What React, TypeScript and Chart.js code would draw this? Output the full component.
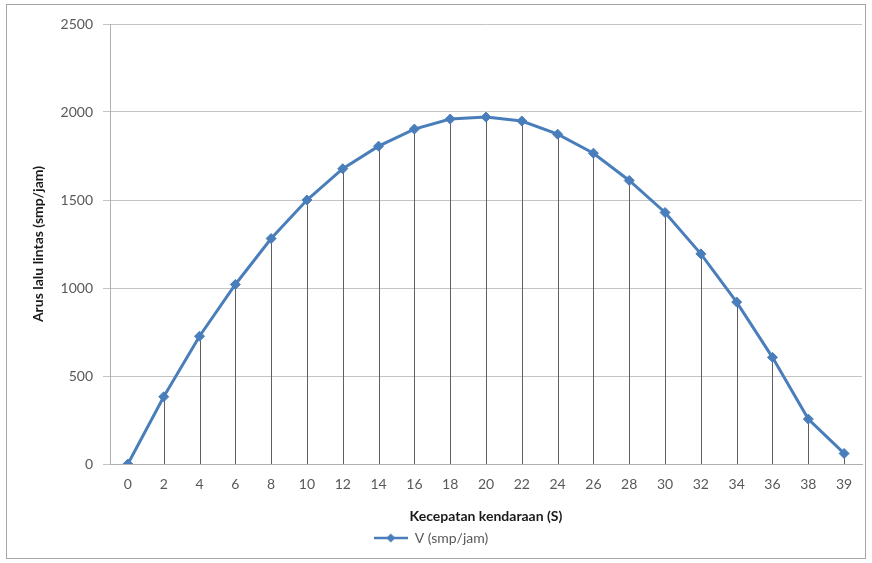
import React, { useEffect, useRef } from "react";
import { Chart, registerables } from "chart.js";

Chart.register(...registerables);

// Speed categories (S) and traffic flow V (smp/jam)
const speedLabels: string[] = [
  "0", "2", "4", "6", "8", "10", "12", "14", "16", "18",
  "20", "22", "24", "26", "28", "30", "32", "34", "36", "38", "39",
];
const flowValues: number[] = [
  0, 382, 726, 1020, 1281, 1500, 1678, 1806, 1903, 1960,
  1971, 1949, 1874, 1766, 1611, 1429, 1194, 920, 606, 255, 60,
];
const yTicks: number[] = [0, 500, 1000, 1500, 2000, 2500];

const seriesName = "V (smp/jam)";
const xTitle = "Kecepatan kendaraan (S)";
const yTitle = "Arus lalu lintas (smp/jam)";

const LINE_BLUE = "#4A7EBB";
const FONT = "Lato, 'Open Sans', sans-serif";

// Small canvas used as the legend symbol: a line with a diamond marker
function makeLegendSymbol(): HTMLCanvasElement {
  const c = document.createElement("canvas");
  c.width = 34;
  c.height = 12;
  const ctx = c.getContext("2d")!;
  ctx.strokeStyle = LINE_BLUE;
  ctx.lineWidth = 2.5;
  ctx.beginPath();
  ctx.moveTo(0, 6);
  ctx.lineTo(34, 6);
  ctx.stroke();
  ctx.fillStyle = LINE_BLUE;
  ctx.beginPath();
  ctx.moveTo(17, 1.5);
  ctx.lineTo(21.5, 6);
  ctx.lineTo(17, 10.5);
  ctx.lineTo(12.5, 6);
  ctx.closePath();
  ctx.fill();
  return c;
}

// Vertical drop lines from each point down to the category axis
const dropLines = {
  id: "dropLines",
  beforeDatasetsDraw(chart: any) {
    const meta = chart.getDatasetMeta(0);
    const y0 = chart.scales.y.getPixelForValue(0);
    const ctx = chart.ctx;
    ctx.save();
    ctx.strokeStyle = "#5f5f5f";
    ctx.lineWidth = 1;
    meta.data.forEach((pt: any) => {
      const x = Math.round(pt.x) + 0.5;
      ctx.beginPath();
      ctx.moveTo(x, pt.y);
      ctx.lineTo(x, y0);
      ctx.stroke();
    });
    ctx.restore();
  },
};

export default function App() {
  const canvasRef = useRef<HTMLCanvasElement | null>(null);

  useEffect(() => {
    if (!canvasRef.current) return;
    const symbol = makeLegendSymbol();
    const chart = new Chart(canvasRef.current, {
      type: "line",
      data: {
        labels: speedLabels,
        datasets: [
          {
            label: seriesName,
            data: flowValues,
            borderColor: LINE_BLUE,
            backgroundColor: LINE_BLUE,
            borderWidth: 3,
            pointStyle: "rectRot",
            pointRadius: 5,
            pointBackgroundColor: LINE_BLUE,
            pointBorderColor: LINE_BLUE,
            pointBorderWidth: 1,
            tension: 0,
          },
        ],
      },
      options: {
        animation: false,
        responsive: true,
        maintainAspectRatio: false,
        layout: { padding: { top: 24, right: 10, bottom: 8, left: 0 } },
        plugins: {
          tooltip: { enabled: false },
          legend: {
            position: "bottom",
            labels: {
              usePointStyle: true,
              pointStyleWidth: 34,
              padding: 4,
              color: "#595959",
              font: { family: FONT, size: 14 },
              generateLabels: () => [
                {
                  text: seriesName,
                  pointStyle: symbol as any,
                  fillStyle: LINE_BLUE,
                  strokeStyle: LINE_BLUE,
                  lineWidth: 0,
                  fontColor: "#595959",
                  datasetIndex: 0,
                  hidden: false,
                },
              ],
            },
          },
        },
        scales: {
          x: {
            type: "category",
            offset: true,
            grid: { display: false, drawTicks: false },
            border: { display: true, color: "#b0b0b0", width: 1 },
            ticks: {
              color: "#595959",
              font: { family: FONT, size: 14 },
              padding: 12,
              maxRotation: 0,
              autoSkip: false,
            },
            title: {
              display: true,
              text: xTitle,
              color: "#1a1a1a",
              font: { family: FONT, size: 14, weight: "bold" },
              padding: { top: 0, bottom: 2 },
            },
            afterFit: (scale: any) => {
              scale.height = 63;
            },
          },
          y: {
            min: 0,
            max: 2500,
            afterBuildTicks: (scale: any) => {
              scale.ticks = yTicks.map((v) => ({ value: v }));
            },
            grid: {
              color: "#c4c4c4",
              lineWidth: 1,
              drawTicks: true,
              tickLength: 7,
            },
            border: { display: true, color: "#b0b0b0", width: 1 },
            ticks: {
              color: "#595959",
              font: { family: FONT, size: 14 },
              padding: 10,
              callback: (v: any) => String(v),
            },
            title: {
              display: true,
              text: yTitle,
              color: "#1a1a1a",
              font: { family: FONT, size: 14, weight: "bold" },
              padding: { top: 30, bottom: 0 },
            },
            afterFit: (scale: any) => {
              scale.width = 110;
            },
          },
        },
      },
      plugins: [dropLines],
    });
    return () => chart.destroy();
  }, []);

  return (
    <div>
      <div
        style={{
          position: "fixed",
          left: 6,
          top: 4,
          width: 860,
          height: 555,
          border: "1px solid #a6a6a6",
          boxSizing: "border-box",
          background: "#fff",
        }}
      />
      <div
        style={{
          position: "fixed",
          left: 0,
          top: 0,
          width: 872,
          height: 563,
        }}
      >
        <canvas ref={canvasRef} />
      </div>
    </div>
  );
}
